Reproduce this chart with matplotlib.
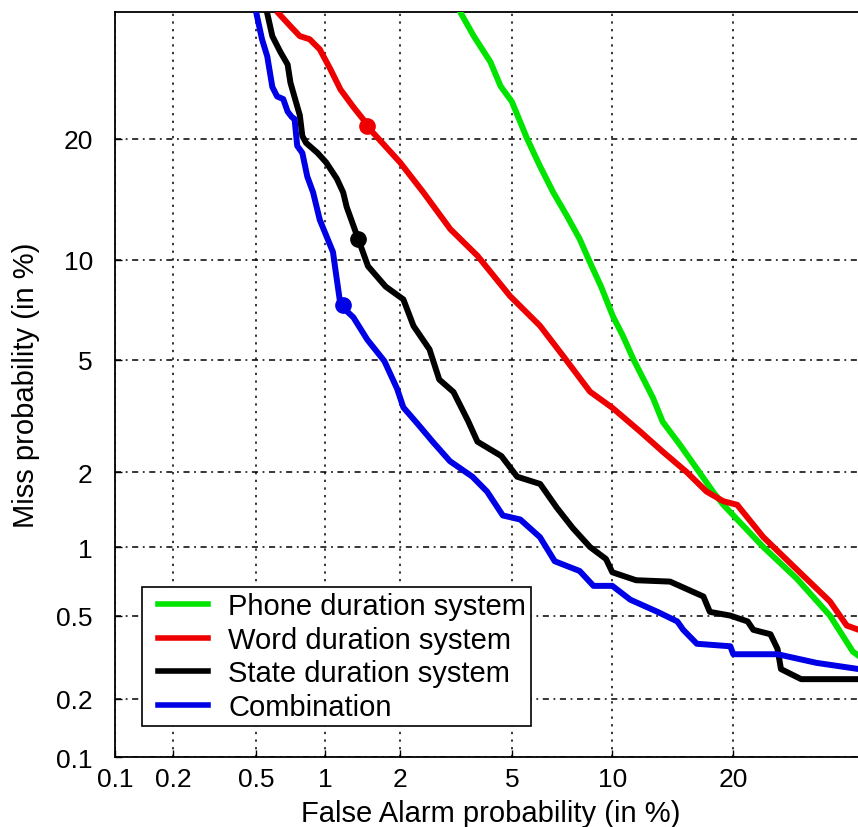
import math
import numpy as np
import matplotlib
matplotlib.use("Agg")
import matplotlib.pyplot as plt
from matplotlib.lines import Line2D
from matplotlib.legend_handler import HandlerLine2D
from matplotlib.ticker import FixedLocator, FixedFormatter, NullLocator

# ---------------- data (percent) ----------------
tick_vals = [0.1, 0.2, 0.5, 1, 2, 5, 10, 20]
tick_labels = ["0.1", "0.2", "0.5", "1", "2", "5", "10", "20"]

phone_fa = [3.35, 3.71, 4.23, 4.57, 4.98, 5.58, 6.12, 6.73, 7.4, 8.07, 8.63, 9.3,
            10.04, 10.7, 11.4, 12.85, 13.6, 15.0, 16.5, 18.0, 19.0, 23.2, 27.1,
            31.2, 34.2, 35.2]
phone_miss = [35.0, 32.0, 28.7, 25.8, 24.0, 20.0, 17.35, 15.0, 13.1, 11.4, 9.88, 8.4,
              6.85, 5.95, 5.03, 3.72, 3.07, 2.54, 2.06, 1.68, 1.49, 1.0, 0.73,
              0.5, 0.34, 0.32]

word_fa = [0.63, 0.71, 0.78, 0.86, 0.95, 1.05, 1.16, 1.31, 1.45, 1.49,
           2.0, 2.45, 3.07, 3.82, 4.91, 6.12, 7.2, 8.65, 10.0, 11.9,
           13.6, 15.6, 17.4, 19.0, 20.4, 23.2, 27.1, 31.2, 33.4, 35.0]
word_miss = [35.0, 33.3, 32.0, 31.6, 30.3, 27.9, 25.4, 23.4, 21.9, 21.3,
             17.7, 15.0, 12.1, 10.26, 7.88, 6.41, 5.15, 3.91, 3.44, 2.83,
             2.39, 2.0, 1.68, 1.54, 1.49, 1.1, 0.8, 0.58, 0.45, 0.43]

state_fa = [0.56, 0.59, 0.64, 0.69, 0.71, 0.75, 0.78, 0.80, 0.83, 0.93,
            1.01, 1.12, 1.19, 1.23, 1.37, 1.5, 1.76, 2.06, 2.25, 2.58,
            2.8, 3.15, 3.54, 3.82, 4.6, 5.18, 6.13, 6.9, 7.7, 8.65,
            9.6, 10.0, 11.6, 14.2, 17.1, 17.7, 19.7, 21.5, 22.1, 24.0,
            24.8, 25.2, 27.6, 35.0]
state_miss = [35.0, 32.0, 30.0, 28.4, 26.2, 24.0, 22.5, 20.3, 19.6, 18.6,
              17.7, 16.2, 15.0, 13.8, 11.4, 9.6, 8.4, 7.7, 6.4, 5.4,
              4.3, 3.9, 3.1, 2.6, 2.3, 1.92, 1.8, 1.45, 1.2, 1.0,
              0.89, 0.78, 0.72, 0.71, 0.61, 0.52, 0.5, 0.47, 0.43, 0.41,
              0.35, 0.28, 0.25, 0.25]

comb_fa = [0.5, 0.53, 0.56, 0.59, 0.62, 0.66, 0.69, 0.72, 0.74, 0.76,
           0.80, 0.84, 0.89, 0.95, 1.08, 1.10, 1.16, 1.31, 1.49, 1.74,
           1.95, 2.06, 2.33, 2.65, 3.06, 3.67, 4.12, 4.65, 5.3, 6.12,
           6.8, 8.07, 8.85, 10.0, 11.2, 13.2, 14.8, 15.3, 16.5, 19.7,
           20.0, 24.8, 29.5, 35.0]
comb_miss = [35.0, 31.6, 29.4, 25.7, 24.6, 24.3, 22.9, 22.3, 22.1, 19.3,
             18.6, 16.4, 15.0, 12.8, 10.5, 9.6, 7.4, 6.8, 5.8, 4.95,
             4.0, 3.45, 3.02, 2.6, 2.2, 1.92, 1.68, 1.35, 1.3, 1.1,
             0.87, 0.79, 0.68, 0.68, 0.59, 0.52, 0.47, 0.43, 0.37, 0.36,
             0.33, 0.33, 0.30, 0.28]

op_fa = [1.49, 1.37, 1.19]
op_miss = [21.3, 11.4, 7.4]

series_names = ["Phone duration system", "Word duration system",
                "State duration system", "Combination"]

# ---------------- probit scale ----------------
_a = [-3.969683028665376e+01, 2.209460984245205e+02, -2.759285104469687e+02,
      1.383577518672690e+02, -3.066479806614716e+01, 2.506628277459239e+00]
_b = [-5.447609879822406e+01, 1.615858368580409e+02, -1.556989798598866e+02,
      6.680131188771972e+01, -1.328068155288572e+01]
_c = [-7.784894002430293e-03, -3.223964580411365e-01, -2.400758277161838e+00,
      -2.549671010336195e+00, 4.374664141464968e+00, 2.938163982698783e+00]
_d = [7.784695709041462e-03, 3.224671290700398e-01, 2.445134137142996e+00,
      3.754408661907416e+00]


def _ppf(p):
    plow = 0.02425
    if p < plow:
        q = math.sqrt(-2 * math.log(p))
        return (((((_c[0]*q+_c[1])*q+_c[2])*q+_c[3])*q+_c[4])*q+_c[5]) / \
               ((((_d[0]*q+_d[1])*q+_d[2])*q+_d[3])*q+1)
    if p > 1 - plow:
        q = math.sqrt(-2 * math.log(1 - p))
        return -(((((_c[0]*q+_c[1])*q+_c[2])*q+_c[3])*q+_c[4])*q+_c[5]) / \
                ((((_d[0]*q+_d[1])*q+_d[2])*q+_d[3])*q+1)
    q = p - 0.5
    r = q * q
    return (((((_a[0]*r+_a[1])*r+_a[2])*r+_a[3])*r+_a[4])*r+_a[5])*q / \
           (((((_b[0]*r+_b[1])*r+_b[2])*r+_b[3])*r+_b[4])*r+1)


_vppf = np.vectorize(_ppf, otypes=[float])
_verf = np.vectorize(math.erf, otypes=[float])


def fwd(x):
    x = np.asarray(x, dtype=float)
    x = np.clip(x, 1e-7, 100 - 1e-7) / 100.0
    return _vppf(x)


def inv(z):
    z = np.asarray(z, dtype=float)
    return 100.0 * 0.5 * (1.0 + _verf(z / math.sqrt(2.0)))


# ---------------- figure ----------------
plt.rcParams["font.family"] = ["Liberation Sans", "DejaVu Sans"]

W, H = 858, 828
fig = plt.figure(figsize=(W / 100, H / 100), dpi=100)
ax = fig.add_axes([115 / W, 70 / H, 743 / W, 745 / H])

ax.set_xscale("function", functions=(fwd, inv))
ax.set_yscale("function", functions=(fwd, inv))
ax.set_xlim(0.1, 34.9)
ax.set_ylim(0.1, 35.2)

lw = 4.3
ax.plot(phone_fa, phone_miss, color="#00e400", lw=lw, label=series_names[0],
        solid_joinstyle="round", zorder=3)
ax.plot(word_fa, word_miss, color="#ee0000", lw=lw, label=series_names[1],
        solid_joinstyle="round", zorder=3)
ax.plot(state_fa, state_miss, color="black", lw=lw, label=series_names[2],
        solid_joinstyle="round", zorder=3)
ax.plot(comb_fa, comb_miss, color="#0000e6", lw=lw, label=series_names[3],
        solid_joinstyle="round", zorder=3)

marker_colors = ["#ee0000", "black", "#0000e6"]
for fx, my, mc in zip(op_fa, op_miss, marker_colors):
    ax.plot([fx], [my], "o", color=mc, ms=11, zorder=4)

for axis in (ax.xaxis, ax.yaxis):
    axis.set_major_locator(FixedLocator(tick_vals))
    axis.set_major_formatter(FixedFormatter(tick_labels))
    axis.set_minor_locator(NullLocator())

ax.xaxis.grid(True, color="black", lw=1.1, linestyle=(0, (1.5, 3.5)))
ax.yaxis.grid(True, color="black", lw=1.1, linestyle=(0, (4, 3, 1.2, 3)))

ax.tick_params(axis="both", direction="in", length=5, width=1, labelsize=19)
ax.tick_params(axis="x", pad=7)
ax.tick_params(axis="y", pad=16)

for s in ["left", "bottom", "top"]:
    ax.spines[s].set_linewidth(1.3)
ax.spines["right"].set_visible(False)

ax.set_xlabel("False Alarm probability (in %)", fontsize=21)
ax.set_ylabel("Miss probability (in %)", fontsize=21)
ax.xaxis.set_label_coords(0.505, -0.056)
ax.yaxis.set_label_coords(-0.101, 0.5)

leg = ax.legend(loc="upper left", bbox_to_anchor=((142 - 115) / 743, (758 - 588) / 745),
                borderaxespad=0, fontsize=21, handlelength=2.09, handletextpad=0.68,
                labelspacing=0.19, borderpad=0.18, fancybox=False, framealpha=1,
                edgecolor="black", handler_map={Line2D: HandlerLine2D(xpad=0.38)})
leg.get_frame().set_linewidth(1.2)
for h in leg.get_lines():
    h.set_linewidth(4)

fig.savefig("out.png", dpi=100)
